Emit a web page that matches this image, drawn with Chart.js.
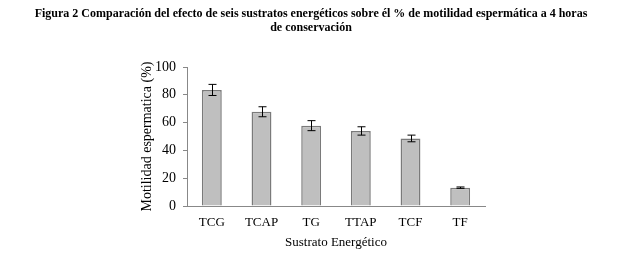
<!DOCTYPE html>
<html>
<head>
<meta charset="utf-8">
<script src="https://cdn.jsdelivr.net/npm/chart.js@4"></script>
<style>
  html, body { margin: 0; padding: 0; background: #fff; }
  #wrap { width: 622px; height: 255px; }
</style>
</head>
<body>
<div id="wrap"><canvas id="motilidad"></canvas></div>
<script>
// data
var categories = ['TCG', 'TCAP', 'TG', 'TTAP', 'TCF', 'TF'];
var motilidad = [83.5, 67.8, 57.8, 54.0, 48.6, 13.2];
var errores = [4.0, 3.6, 3.6, 3.0, 2.4, 0.5];
var yTicks = [0, 20, 40, 60, 80, 100];
var titleLines = [
  'Figura 2 Comparación del efecto de seis sustratos energéticos sobre él % de motilidad espermática a 4 horas',
  'de conservación'
];

var serif = '"Liberation Serif", "Times New Roman", serif';

// figure caption across the full width (the built-in title gets squeezed by the padding)
var caption = {
  id: 'caption',
  afterDraw: function(chart) {
    var ctx = chart.ctx;
    ctx.save();
    ctx.fillStyle = '#000';
    ctx.font = 'bold 12px ' + serif;
    ctx.textAlign = 'center';
    ctx.textBaseline = 'middle';
    titleLines.forEach(function(line, i) {
      ctx.fillText(line, chart.width / 2, 14 + i * 14);
    });
    ctx.restore();
  }
};

// draws the +/- error whiskers on top of each bar
var errorBars = {
  id: 'errorBars',
  afterDatasetsDraw: function(chart) {
    var ctx = chart.ctx;
    var yScale = chart.scales.y;
    var meta = chart.getDatasetMeta(0);
    ctx.save();
    ctx.strokeStyle = '#000';
    ctx.lineWidth = 1;
    meta.data.forEach(function(bar, i) {
      var x = Math.round(bar.x) + 0.5;
      var top = yScale.getPixelForValue(motilidad[i] + errores[i]);
      var bot = yScale.getPixelForValue(motilidad[i] - errores[i]);
      ctx.beginPath();
      ctx.moveTo(x, top); ctx.lineTo(x, bot);
      ctx.moveTo(x - 4, top); ctx.lineTo(x + 4, top);
      ctx.moveTo(x - 4, bot); ctx.lineTo(x + 4, bot);
      ctx.stroke();
    });
    ctx.restore();
  }
};

var chart = new Chart('motilidad', {
  type: 'bar',
  data: {
    labels: categories,
    datasets: [{
      data: motilidad,
      backgroundColor: '#bfbfbf',
      borderColor: '#7a7a7a',
      borderWidth: 1.5,
      categoryPercentage: 1,
      barPercentage: 0.4
    }]
  },
  options: {
    responsive: true,
    maintainAspectRatio: false,
    animation: false,
    layout: { padding: { left: 139, right: 137, top: 67, bottom: 5 } },
    scales: {
      x: {
        afterFit: function(scale) { scale.height = 44; },
        grid: { display: false, drawTicks: false },
        border: { color: '#888', width: 1 },
        ticks: { color: '#000', padding: 9, font: { family: serif, size: 13 } },
        title: { display: true, text: 'Sustrato Energético', color: '#000', padding: 0, font: { family: serif, size: 13 } }
      },
      y: {
        min: 0,
        max: 100,
        afterBuildTicks: function(scale) {
          scale.ticks = yTicks.map(function(v) { return { value: v }; });
        },
        afterFit: function(scale) { scale.width = 48; },
        grid: { display: true, drawOnChartArea: false, drawTicks: true, tickLength: 4, color: '#888' },
        border: { color: '#888', width: 1 },
        ticks: { color: '#000', padding: 7, font: { family: serif, size: 14 } },
        title: { display: true, text: 'Motilidad espermatica (%)', color: '#000', padding: 0, font: { family: serif, size: 14 } }
      }
    },
    plugins: {
      legend: { display: false },
      tooltip: { enabled: false },
      title: { display: false }
    }
  },
  plugins: [errorBars, caption]
});
</script>
</body>
</html>
